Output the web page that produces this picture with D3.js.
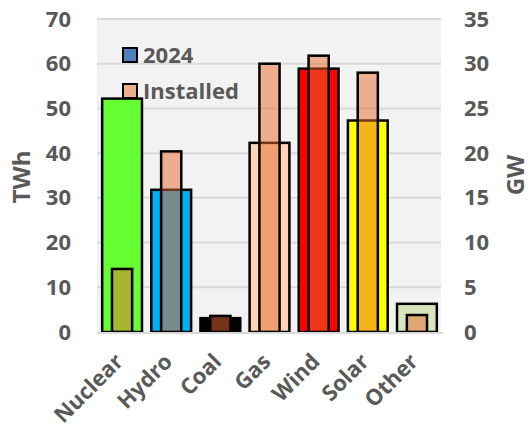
<!DOCTYPE html>
<html>
<head>
<meta charset="utf-8">
<script src="https://cdn.jsdelivr.net/npm/d3@7"></script>
<style>
  html, body { margin: 0; padding: 0; background: #fff; }
  svg { display: block; }
  text { font-family: "Open Sans", "DejaVu Sans", sans-serif; font-weight: bold; fill: #595959; }
</style>
</head>
<body>
<svg id="chart" width="531" height="430"></svg>
<script>
// Electricity by source: 2024 generation (TWh, left axis) and installed capacity (GW, right axis)
const categories = ["Nuclear", "Hydro", "Coal", "Gas", "Wind", "Solar", "Other"];
const generationTWh = [52.2, 31.8, 3.1, 42.3, 58.9, 47.3, 6.3];
const installedGW = [7.05, 20.2, 1.8, 30.0, 30.9, 29.0, 1.9];
const sourceColors = ["#66FF33", "#00B0F0", "#000000", "#FBD5B5", "#FF0000", "#FFFF00", "#D7E4BD"];
const leftTicks = [0, 10, 20, 30, 40, 50, 60, 70];
const rightTicks = [0, 5, 10, 15, 20, 25, 30, 35];
const legendLabels = ["2024", "Installed"];

const svg = d3.select("#chart");
const plot = { left: 97, right: 441, top: 19, bottom: 332 };

const x = d3.scaleBand().domain(categories).range([plot.left, plot.right]).padding(0);
const yL = d3.scaleLinear().domain([0, 70]).range([plot.bottom, plot.top]);
const yR = d3.scaleLinear().domain([0, 35]).range([plot.bottom, plot.top]);

// plot background
svg.append("rect")
  .attr("x", plot.left).attr("y", plot.top)
  .attr("width", plot.right - plot.left).attr("height", plot.bottom - plot.top)
  .attr("fill", "#F2F2F2");

// horizontal gridlines
svg.append("g").selectAll("line")
  .data(leftTicks.filter(d => d > 0))
  .join("line")
  .attr("x1", plot.left).attr("x2", plot.right)
  .attr("y1", d => yL(d)).attr("y2", d => yL(d))
  .attr("stroke", "#D9D9D9").attr("stroke-width", 2);

function styleTicks(g) {
  g.select(".domain").remove();
  g.selectAll("text")
    .style("font-size", "22px")
    .style("font-family", "'Open Sans', sans-serif")
    .style("font-weight", "bold")
    .attr("fill", "#595959");
}

// left axis labels
svg.append("g")
  .attr("transform", `translate(${plot.left},0)`)
  .call(d3.axisLeft(yL).tickValues(leftTicks).tickSize(0).tickPadding(26))
  .call(styleTicks);

// right axis labels
svg.append("g")
  .attr("transform", `translate(${plot.right},0)`)
  .call(d3.axisRight(yR).tickValues(rightTicks).tickSize(0).tickPadding(23))
  .call(styleTicks);

// axis titles
svg.append("text")
  .attr("transform", `translate(30,177) rotate(-90)`)
  .attr("text-anchor", "middle")
  .style("font-size", "24px")
  .text("TWh");
svg.append("text")
  .attr("transform", `translate(524,175) rotate(-90)`)
  .attr("text-anchor", "middle")
  .style("font-size", "24px")
  .text("GW");

const wideW = x.bandwidth() * 0.81;
const narrowW = x.bandwidth() * 0.41;
const shift = 0.5; // bars sit slightly right of band centre

// 2024 generation bars
svg.append("g").selectAll("rect")
  .data(categories)
  .join("rect")
  .attr("x", (d) => x(d) + x.bandwidth() / 2 - wideW / 2 + shift)
  .attr("y", (d, i) => yL(generationTWh[i]))
  .attr("width", wideW)
  .attr("height", (d, i) => yL(0) - yL(generationTWh[i]))
  .attr("fill", (d, i) => sourceColors[i])
  .attr("stroke", "#000").attr("stroke-width", 2.5);

// installed capacity bars (semi-transparent overlay)
svg.append("g").selectAll("rect")
  .data(categories)
  .join("rect")
  .attr("x", (d) => x(d) + x.bandwidth() / 2 - narrowW / 2 + shift)
  .attr("y", (d, i) => yR(installedGW[i]))
  .attr("width", narrowW)
  .attr("height", (d, i) => yR(0) - yR(installedGW[i]))
  .attr("fill", "rgba(230,106,44,0.5)")
  .attr("stroke", "#000").attr("stroke-width", 2.5);

// baseline
svg.append("line")
  .attr("x1", plot.left).attr("x2", plot.right + 2)
  .attr("y1", plot.bottom + 1).attr("y2", plot.bottom + 1)
  .attr("stroke", "#D9D9D9").attr("stroke-width", 2);

// category labels, rotated
svg.append("g").selectAll("text")
  .data(categories)
  .join("text")
  .attr("transform", d => `translate(${x(d) + x.bandwidth() / 2 + 3},${plot.bottom + 31}) rotate(-45)`)
  .attr("text-anchor", "end")
  .style("font-size", "22px")
  .text(d => d);

// legend
const legend = svg.append("g");
const legendFills = ["#4F81BD", "rgba(230,106,44,0.5)"];
legendLabels.forEach((lab, i) => {
  const ly = 48 + i * 36;
  legend.append("rect")
    .attr("x", 123).attr("y", ly).attr("width", 14).attr("height", 14)
    .attr("fill", legendFills[i]).attr("stroke", "#000").attr("stroke-width", 2);
  legend.append("text")
    .attr("x", 143).attr("y", ly + 15)
    .style("font-size", "22px")
    .text(lab);
});
</script>
</body>
</html>
